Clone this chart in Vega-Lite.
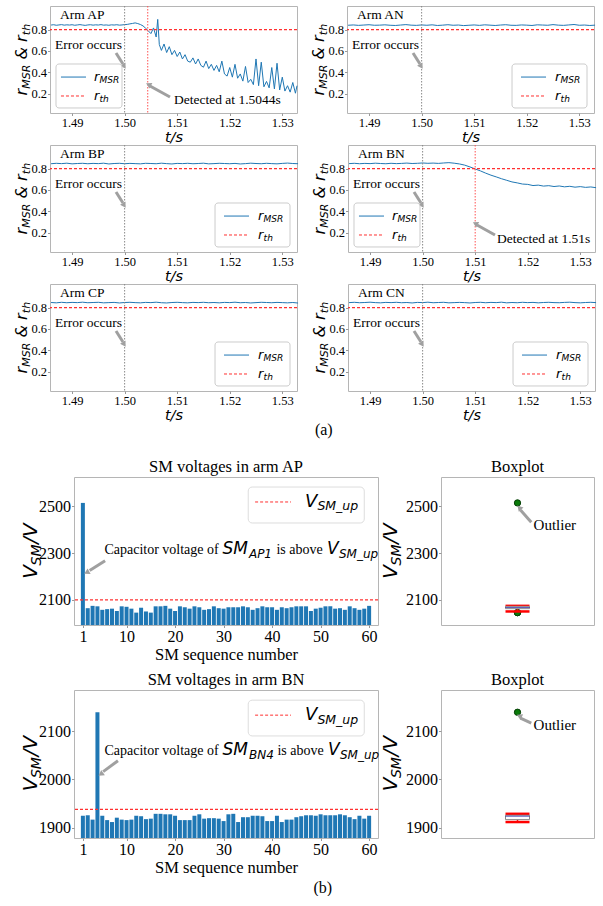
{
"$schema": "https://vega.github.io/schema/vega-lite/v6.json",
"background": "white",
"padding": {"left": 0, "top": 5, "right": 0, "bottom": 0},
"config": {
  "view": {"stroke": "#b5b5b5", "strokeWidth": 1},
  "axis": {"domain": false, "grid": false, "tickColor": "#999999", "tickSize": 2.5, "labelFont": "Liberation Serif", "labelFontSize": 12.5, "labelColor": "#000000", "labelPadding": 1, "labelOverlap": false, "labelBound": false, "labelFlush": false, "titleFont": "Liberation Serif", "titleFontWeight": "normal", "titleColor": "#000000"},
  "title": {"font": "Liberation Serif", "fontWeight": "normal", "color": "#000000", "fontSize": 16.5},
  "text": {"color": "#000000"},
  "style": {
    "lbl": {"font": "Liberation Serif", "fontSize": 13.5, "align": "left", "baseline": "middle"},
    "lbo": {"font": "Liberation Serif", "fontSize": 15, "align": "left", "baseline": "middle"},
    "yt": {"font": "DejaVu Sans", "fontStyle": "italic", "fontSize": 16, "angle": 270, "align": "left", "baseline": "alphabetic"},
    "yts": {"font": "DejaVu Sans", "fontStyle": "italic", "fontSize": 11, "angle": 270, "align": "left", "baseline": "alphabetic"},
    "lg": {"font": "DejaVu Sans", "fontStyle": "italic", "fontSize": 13, "align": "left", "baseline": "middle"},
    "lgs": {"font": "DejaVu Sans", "fontStyle": "italic", "fontSize": 9, "align": "left", "baseline": "middle"},
    "an": {"font": "Liberation Serif", "fontSize": 14, "align": "left", "baseline": "alphabetic"},
    "am": {"font": "DejaVu Sans", "fontStyle": "italic", "fontSize": 17, "align": "left", "baseline": "alphabetic"},
    "as": {"font": "DejaVu Sans", "fontStyle": "italic", "fontSize": 12, "align": "left", "baseline": "alphabetic"},
    "vt": {"font": "DejaVu Sans", "fontStyle": "italic", "fontSize": 20, "angle": 270, "align": "left", "baseline": "alphabetic"},
    "vts": {"font": "DejaVu Sans", "fontStyle": "italic", "fontSize": 14, "angle": 270, "align": "left", "baseline": "alphabetic"},
    "vl": {"font": "DejaVu Sans", "fontStyle": "italic", "fontSize": 18, "align": "left", "baseline": "middle"},
    "vls": {"font": "DejaVu Sans", "fontStyle": "italic", "fontSize": 12.5, "align": "left", "baseline": "middle"}
  }
},
"datasets": {
  "ap": [{"t":1.4860,"r":0.842},{"t":1.4865,"r":0.845},{"t":1.4870,"r":0.840},{"t":1.4875,"r":0.843},{"t":1.4880,"r":0.846},{"t":1.4885,"r":0.841},{"t":1.4890,"r":0.844},{"t":1.4895,"r":0.842},{"t":1.4900,"r":0.845},{"t":1.4905,"r":0.840},{"t":1.4910,"r":0.843},{"t":1.4915,"r":0.846},{"t":1.4920,"r":0.842},{"t":1.4925,"r":0.839},{"t":1.4930,"r":0.843},{"t":1.4935,"r":0.845},{"t":1.4940,"r":0.841},{"t":1.4945,"r":0.844},{"t":1.4950,"r":0.842},{"t":1.4955,"r":0.846},{"t":1.4960,"r":0.841},{"t":1.4965,"r":0.843},{"t":1.4970,"r":0.840},{"t":1.4975,"r":0.844},{"t":1.4980,"r":0.842},{"t":1.4985,"r":0.845},{"t":1.4990,"r":0.841},{"t":1.4995,"r":0.843},{"t":1.5000,"r":0.846},{"t":1.5005,"r":0.848},{"t":1.5010,"r":0.853},{"t":1.5015,"r":0.857},{"t":1.5020,"r":0.862},{"t":1.5025,"r":0.856},{"t":1.5030,"r":0.847},{"t":1.5035,"r":0.834},{"t":1.5040,"r":0.812},{"t":1.5045,"r":0.788},{"t":1.5050,"r":0.762},{"t":1.5055,"r":0.815},{"t":1.5060,"r":0.730},{"t":1.5063,"r":0.895},{"t":1.5066,"r":0.660},{"t":1.5070,"r":0.605},{"t":1.5075,"r":0.665},{"t":1.5080,"r":0.585},{"t":1.5085,"r":0.640},{"t":1.5090,"r":0.565},{"t":1.5095,"r":0.605},{"t":1.5100,"r":0.548},{"t":1.5105,"r":0.590},{"t":1.5110,"r":0.525},{"t":1.5115,"r":0.565},{"t":1.5120,"r":0.505},{"t":1.5125,"r":0.495},{"t":1.5130,"r":0.535},{"t":1.5135,"r":0.478},{"t":1.5140,"r":0.525},{"t":1.5145,"r":0.465},{"t":1.5150,"r":0.448},{"t":1.5155,"r":0.505},{"t":1.5160,"r":0.435},{"t":1.5165,"r":0.475},{"t":1.5170,"r":0.418},{"t":1.5175,"r":0.465},{"t":1.5180,"r":0.405},{"t":1.5185,"r":0.505},{"t":1.5190,"r":0.385},{"t":1.5195,"r":0.365},{"t":1.5200,"r":0.445},{"t":1.5205,"r":0.355},{"t":1.5210,"r":0.475},{"t":1.5215,"r":0.345},{"t":1.5220,"r":0.385},{"t":1.5225,"r":0.318},{"t":1.5230,"r":0.455},{"t":1.5235,"r":0.305},{"t":1.5240,"r":0.335},{"t":1.5245,"r":0.285},{"t":1.5250,"r":0.525},{"t":1.5255,"r":0.275},{"t":1.5260,"r":0.495},{"t":1.5265,"r":0.265},{"t":1.5270,"r":0.315},{"t":1.5275,"r":0.255},{"t":1.5280,"r":0.445},{"t":1.5285,"r":0.245},{"t":1.5290,"r":0.485},{"t":1.5295,"r":0.235},{"t":1.5300,"r":0.355},{"t":1.5305,"r":0.225},{"t":1.5310,"r":0.275},{"t":1.5315,"r":0.215},{"t":1.5320,"r":0.305},{"t":1.5325,"r":0.205},{"t":1.5328,"r":0.275}],
  "an": [{"t":1.486,"r":0.840},{"t":1.487,"r":0.843},{"t":1.488,"r":0.839},{"t":1.489,"r":0.842},{"t":1.490,"r":0.845},{"t":1.491,"r":0.840},{"t":1.492,"r":0.841},{"t":1.493,"r":0.844},{"t":1.494,"r":0.840},{"t":1.495,"r":0.838},{"t":1.496,"r":0.842},{"t":1.497,"r":0.846},{"t":1.498,"r":0.841},{"t":1.499,"r":0.839},{"t":1.500,"r":0.843},{"t":1.501,"r":0.840},{"t":1.502,"r":0.844},{"t":1.503,"r":0.838},{"t":1.504,"r":0.841},{"t":1.505,"r":0.845},{"t":1.506,"r":0.840},{"t":1.507,"r":0.842},{"t":1.508,"r":0.837},{"t":1.509,"r":0.840},{"t":1.510,"r":0.843},{"t":1.511,"r":0.839},{"t":1.512,"r":0.844},{"t":1.513,"r":0.841},{"t":1.514,"r":0.838},{"t":1.515,"r":0.842},{"t":1.516,"r":0.845},{"t":1.517,"r":0.840},{"t":1.518,"r":0.839},{"t":1.519,"r":0.843},{"t":1.520,"r":0.841},{"t":1.521,"r":0.838},{"t":1.522,"r":0.844},{"t":1.523,"r":0.842},{"t":1.524,"r":0.840},{"t":1.525,"r":0.846},{"t":1.526,"r":0.841},{"t":1.527,"r":0.839},{"t":1.528,"r":0.843},{"t":1.529,"r":0.847},{"t":1.530,"r":0.840},{"t":1.531,"r":0.842},{"t":1.532,"r":0.838},{"t":1.533,"r":0.841}],
  "bp": [{"t":1.486,"r":0.845},{"t":1.487,"r":0.849},{"t":1.488,"r":0.846},{"t":1.489,"r":0.850},{"t":1.490,"r":0.844},{"t":1.491,"r":0.847},{"t":1.492,"r":0.849},{"t":1.493,"r":0.845},{"t":1.494,"r":0.848},{"t":1.495,"r":0.846},{"t":1.496,"r":0.850},{"t":1.497,"r":0.843},{"t":1.498,"r":0.847},{"t":1.499,"r":0.849},{"t":1.500,"r":0.845},{"t":1.501,"r":0.848},{"t":1.502,"r":0.846},{"t":1.503,"r":0.844},{"t":1.504,"r":0.849},{"t":1.505,"r":0.847},{"t":1.506,"r":0.845},{"t":1.507,"r":0.850},{"t":1.508,"r":0.846},{"t":1.509,"r":0.843},{"t":1.510,"r":0.848},{"t":1.511,"r":0.846},{"t":1.512,"r":0.849},{"t":1.513,"r":0.845},{"t":1.514,"r":0.847},{"t":1.515,"r":0.850},{"t":1.516,"r":0.844},{"t":1.517,"r":0.846},{"t":1.518,"r":0.849},{"t":1.519,"r":0.847},{"t":1.520,"r":0.845},{"t":1.521,"r":0.848},{"t":1.522,"r":0.843},{"t":1.523,"r":0.846},{"t":1.524,"r":0.850},{"t":1.525,"r":0.847},{"t":1.526,"r":0.845},{"t":1.527,"r":0.849},{"t":1.528,"r":0.846},{"t":1.529,"r":0.844},{"t":1.530,"r":0.848},{"t":1.531,"r":0.851},{"t":1.532,"r":0.847},{"t":1.533,"r":0.845}],
  "bn": [{"t":1.486,"r":0.846},{"t":1.487,"r":0.849},{"t":1.488,"r":0.845},{"t":1.489,"r":0.848},{"t":1.490,"r":0.846},{"t":1.491,"r":0.850},{"t":1.492,"r":0.847},{"t":1.493,"r":0.845},{"t":1.494,"r":0.849},{"t":1.495,"r":0.846},{"t":1.496,"r":0.848},{"t":1.497,"r":0.851},{"t":1.498,"r":0.847},{"t":1.499,"r":0.849},{"t":1.500,"r":0.852},{"t":1.501,"r":0.849},{"t":1.502,"r":0.851},{"t":1.503,"r":0.848},{"t":1.504,"r":0.852},{"t":1.505,"r":0.855},{"t":1.506,"r":0.850},{"t":1.507,"r":0.843},{"t":1.508,"r":0.832},{"t":1.509,"r":0.815},{"t":1.510,"r":0.796},{"t":1.511,"r":0.778},{"t":1.512,"r":0.757},{"t":1.513,"r":0.738},{"t":1.514,"r":0.722},{"t":1.515,"r":0.705},{"t":1.516,"r":0.690},{"t":1.517,"r":0.675},{"t":1.518,"r":0.666},{"t":1.519,"r":0.655},{"t":1.520,"r":0.652},{"t":1.521,"r":0.641},{"t":1.522,"r":0.645},{"t":1.523,"r":0.636},{"t":1.524,"r":0.640},{"t":1.525,"r":0.632},{"t":1.526,"r":0.637},{"t":1.527,"r":0.629},{"t":1.528,"r":0.634},{"t":1.529,"r":0.626},{"t":1.530,"r":0.631},{"t":1.531,"r":0.624},{"t":1.532,"r":0.628},{"t":1.533,"r":0.621}],
  "cp": [{"t":1.486,"r":0.847},{"t":1.487,"r":0.844},{"t":1.488,"r":0.849},{"t":1.489,"r":0.845},{"t":1.490,"r":0.848},{"t":1.491,"r":0.846},{"t":1.492,"r":0.850},{"t":1.493,"r":0.845},{"t":1.494,"r":0.847},{"t":1.495,"r":0.849},{"t":1.496,"r":0.844},{"t":1.497,"r":0.846},{"t":1.498,"r":0.848},{"t":1.499,"r":0.843},{"t":1.500,"r":0.847},{"t":1.501,"r":0.849},{"t":1.502,"r":0.846},{"t":1.503,"r":0.844},{"t":1.504,"r":0.848},{"t":1.505,"r":0.846},{"t":1.506,"r":0.850},{"t":1.507,"r":0.845},{"t":1.508,"r":0.843},{"t":1.509,"r":0.847},{"t":1.510,"r":0.849},{"t":1.511,"r":0.846},{"t":1.512,"r":0.844},{"t":1.513,"r":0.848},{"t":1.514,"r":0.846},{"t":1.515,"r":0.849},{"t":1.516,"r":0.845},{"t":1.517,"r":0.847},{"t":1.518,"r":0.844},{"t":1.519,"r":0.848},{"t":1.520,"r":0.846},{"t":1.521,"r":0.850},{"t":1.522,"r":0.845},{"t":1.523,"r":0.847},{"t":1.524,"r":0.843},{"t":1.525,"r":0.846},{"t":1.526,"r":0.849},{"t":1.527,"r":0.847},{"t":1.528,"r":0.845},{"t":1.529,"r":0.848},{"t":1.530,"r":0.846},{"t":1.531,"r":0.844},{"t":1.532,"r":0.847},{"t":1.533,"r":0.842}],
  "cn": [{"t":1.486,"r":0.846},{"t":1.487,"r":0.849},{"t":1.488,"r":0.845},{"t":1.489,"r":0.847},{"t":1.490,"r":0.850},{"t":1.491,"r":0.846},{"t":1.492,"r":0.844},{"t":1.493,"r":0.848},{"t":1.494,"r":0.846},{"t":1.495,"r":0.849},{"t":1.496,"r":0.845},{"t":1.497,"r":0.847},{"t":1.498,"r":0.843},{"t":1.499,"r":0.848},{"t":1.500,"r":0.846},{"t":1.501,"r":0.850},{"t":1.502,"r":0.845},{"t":1.503,"r":0.847},{"t":1.504,"r":0.849},{"t":1.505,"r":0.844},{"t":1.506,"r":0.846},{"t":1.507,"r":0.848},{"t":1.508,"r":0.846},{"t":1.509,"r":0.843},{"t":1.510,"r":0.847},{"t":1.511,"r":0.849},{"t":1.512,"r":0.845},{"t":1.513,"r":0.848},{"t":1.514,"r":0.846},{"t":1.515,"r":0.850},{"t":1.516,"r":0.844},{"t":1.517,"r":0.847},{"t":1.518,"r":0.845},{"t":1.519,"r":0.849},{"t":1.520,"r":0.846},{"t":1.521,"r":0.848},{"t":1.522,"r":0.844},{"t":1.523,"r":0.847},{"t":1.524,"r":0.849},{"t":1.525,"r":0.846},{"t":1.526,"r":0.845},{"t":1.527,"r":0.848},{"t":1.528,"r":0.850},{"t":1.529,"r":0.846},{"t":1.530,"r":0.844},{"t":1.531,"r":0.847},{"t":1.532,"r":0.849},{"t":1.533,"r":0.846}],
  "smap": [{"seq":1,"v":2515},{"seq":2,"v":2064},{"seq":3,"v":2074},{"seq":4,"v":2072},{"seq":5,"v":2057},{"seq":6,"v":2060},{"seq":7,"v":2062},{"seq":8,"v":2052},{"seq":9,"v":2072},{"seq":10,"v":2070},{"seq":11,"v":2062},{"seq":12,"v":2045},{"seq":13,"v":2066},{"seq":14,"v":2050},{"seq":15,"v":2045},{"seq":16,"v":2072},{"seq":17,"v":2072},{"seq":18,"v":2074},{"seq":19,"v":2062},{"seq":20,"v":2052},{"seq":21,"v":2072},{"seq":22,"v":2068},{"seq":23,"v":2062},{"seq":24,"v":2072},{"seq":25,"v":2068},{"seq":26,"v":2057},{"seq":27,"v":2060},{"seq":28,"v":2072},{"seq":29,"v":2064},{"seq":30,"v":2062},{"seq":31,"v":2068},{"seq":32,"v":2068},{"seq":33,"v":2068},{"seq":34,"v":2072},{"seq":35,"v":2068},{"seq":36,"v":2057},{"seq":37,"v":2064},{"seq":38,"v":2072},{"seq":39,"v":2068},{"seq":40,"v":2068},{"seq":41,"v":2057},{"seq":42,"v":2068},{"seq":43,"v":2064},{"seq":44,"v":2068},{"seq":45,"v":2072},{"seq":46,"v":2072},{"seq":47,"v":2072},{"seq":48,"v":2052},{"seq":49,"v":2062},{"seq":50,"v":2066},{"seq":51,"v":2072},{"seq":52,"v":2072},{"seq":53,"v":2062},{"seq":54,"v":2064},{"seq":55,"v":2057},{"seq":56,"v":2072},{"seq":57,"v":2064},{"seq":58,"v":2057},{"seq":59,"v":2062},{"seq":60,"v":2074}],
  "smbn": [{"seq":1,"v":1925},{"seq":2,"v":1926},{"seq":3,"v":1917},{"seq":4,"v":2139},{"seq":5,"v":1925},{"seq":6,"v":1916},{"seq":7,"v":1912},{"seq":8,"v":1921},{"seq":9,"v":1917},{"seq":10,"v":1916},{"seq":11,"v":1917},{"seq":12,"v":1925},{"seq":13,"v":1924},{"seq":14,"v":1918},{"seq":15,"v":1919},{"seq":16,"v":1929},{"seq":17,"v":1929},{"seq":18,"v":1928},{"seq":19,"v":1928},{"seq":20,"v":1925},{"seq":21,"v":1916},{"seq":22,"v":1916},{"seq":23,"v":1916},{"seq":24,"v":1925},{"seq":25,"v":1928},{"seq":26,"v":1919},{"seq":27,"v":1920},{"seq":28,"v":1920},{"seq":29,"v":1919},{"seq":30,"v":1914},{"seq":31,"v":1928},{"seq":32,"v":1929},{"seq":33,"v":1912},{"seq":34,"v":1922},{"seq":35,"v":1922},{"seq":36,"v":1925},{"seq":37,"v":1925},{"seq":38,"v":1924},{"seq":39,"v":1914},{"seq":40,"v":1914},{"seq":41,"v":1925},{"seq":42,"v":1912},{"seq":43,"v":1917},{"seq":44,"v":1917},{"seq":45,"v":1922},{"seq":46,"v":1924},{"seq":47,"v":1926},{"seq":48,"v":1926},{"seq":49,"v":1925},{"seq":50,"v":1928},{"seq":51,"v":1926},{"seq":52,"v":1926},{"seq":53,"v":1926},{"seq":54,"v":1928},{"seq":55,"v":1926},{"seq":56,"v":1922},{"seq":57,"v":1918},{"seq":58,"v":1925},{"seq":59,"v":1919},{"seq":60,"v":1925}]
},
"columns": 1,
"align": "none",
"spacing": 20,
"concat": [
 {"spacing": 0, "hconcat": [
 {"width": 13, "height": 1, "data": {"values": [{}]}, "mark": {"type": "point", "opacity": 0, "size": 1}, "encoding": {}, "view": {"stroke": null}},
 {
  "spacing": 0,
  "title": {"text": "(a)", "orient": "bottom", "anchor": "middle", "fontSize": 16, "offset": 0, "dx": 18},
  "vconcat": [
   {"spacing": 10, "hconcat": [
    {"width": 247, "height": 107, "layer": [
     {"data": {"name": "ap"}, "mark": {"type": "line", "color": "#1f77b4", "strokeWidth": 1},
      "encoding": {
       "x": {"field": "t", "type": "quantitative", "scale": {"domain": [1.4858, 1.5328], "nice": false, "zero": false}, "axis": {"values": [1.49, 1.5, 1.51, 1.52, 1.53], "format": ".2f", "title": "t/s", "titleFont": "DejaVu Sans", "titleFontStyle": "italic", "titleFontSize": 14.5, "titlePadding": 1}},
       "y": {"field": "r", "type": "quantitative", "scale": {"domain": [0.02, 1.02], "nice": false, "zero": false}, "axis": {"values": [0.2, 0.4, 0.6, 0.8], "tickCount": 8, "format": ".1f", "title": null}}}},
     {"data": {"values": [{}]}, "layer": [
      {"mark": {"type": "rule", "color": "#888888", "strokeDash": [1.5, 1.5], "strokeWidth": 1}, "encoding": {"x": {"datum": 1.5}}},
      {"mark": {"type": "rule", "color": "#ff5050", "strokeDash": [1.5, 1.5], "strokeWidth": 1}, "encoding": {"x": {"datum": 1.5044}}},
      {"mark": {"type": "rule", "color": "#ff3030", "strokeDash": [3, 2], "strokeWidth": 1.2}, "encoding": {"y": {"datum": 0.8}}},
      {"mark": {"type": "text", "style": "lbl", "text": "Arm AP"}, "encoding": {"x": {"datum": 1.4877}, "y": {"datum": 0.936}}},
      {"mark": {"type": "text", "style": "lbl", "text": "Error occurs", "align": "right"}, "encoding": {"x": {"datum": 1.4995}, "y": {"datum": 0.655}}},
      {"mark": {"type": "rule", "color": "#a0a0a0", "strokeWidth": 3}, "encoding": {"x": {"datum": 1.49836}, "y": {"datum": 0.581}, "x2": {"datum": 1.49969}, "y2": {"datum": 0.478}}},
      {"mark": {"type": "point", "shape": "triangle-down", "filled": true, "color": "#a0a0a0", "opacity": 1, "size": 40, "angle": 328}, "encoding": {"x": {"datum": 1.49992}, "y": {"datum": 0.455}}},
      {"mark": {"type": "rect", "fill": "white", "fillOpacity": 0.85, "stroke": "#cccccc", "strokeWidth": 1, "cornerRadius": 3}, "encoding": {"x": {"datum": 1.48694}, "x2": {"datum": 1.4995}, "y": {"datum": 0.478}, "y2": {"datum": 0.067}}},
      {"mark": {"type": "rule", "color": "#1f77b4", "strokeWidth": 1}, "encoding": {"x": {"datum": 1.48789}, "x2": {"datum": 1.49265}, "y": {"datum": 0.356}}},
      {"mark": {"type": "rule", "color": "#ff3030", "strokeDash": [3, 2], "strokeWidth": 1}, "encoding": {"x": {"datum": 1.48789}, "x2": {"datum": 1.49265}, "y": {"datum": 0.179}}},
      {"encoding": {"x": {"datum": 1.49417}, "y": {"datum": 0.356}}, "layer": [{"mark": {"type": "text", "style": "lg", "text": "r"}}, {"mark": {"type": "text", "style": "lgs", "text": "MSR", "dx": 5.6, "dy": 3}}]},
      {"encoding": {"x": {"datum": 1.49417}, "y": {"datum": 0.179}}, "layer": [{"mark": {"type": "text", "style": "lg", "text": "r"}}, {"mark": {"type": "text", "style": "lgs", "text": "th", "dx": 5.6, "dy": 3}}]},
      {"encoding": {"x": {"datum": 1.48133}, "y": {"datum": 0.184}}, "layer": [{"mark": {"type": "text", "style": "yt", "text": "r"}}, {"mark": {"type": "text", "style": "yts", "text": "MSR", "dx": 6.8, "dy": 3.5}}, {"mark": {"type": "text", "style": "yt", "text": "&", "dx": 36}}, {"mark": {"type": "text", "style": "yt", "text": "r", "dx": 53.5}}, {"mark": {"type": "text", "style": "yts", "text": "th", "dx": 60.3, "dy": 3.5}}]},
      {"mark": {"type": "text", "style": "lbl", "text": "Detected at 1.5044s"}, "encoding": {"x": {"datum": 1.5094}, "y": {"datum": 0.141}}},
      {"mark": {"type": "rule", "color": "#a0a0a0", "strokeWidth": 3}, "encoding": {"x": {"datum": 1.50863}, "y": {"datum": 0.1695}, "x2": {"datum": 1.50483}, "y2": {"datum": 0.2724}}},
      {"mark": {"type": "point", "shape": "triangle-up", "filled": true, "color": "#a0a0a0", "opacity": 1, "size": 40, "angle": 298}, "encoding": {"x": {"datum": 1.50454}, "y": {"datum": 0.2864}}}
     ]}
    ]},
    {"width": 247, "height": 107, "layer": [
     {"data": {"name": "an"}, "mark": {"type": "line", "color": "#1f77b4", "strokeWidth": 1},
      "encoding": {
       "x": {"field": "t", "type": "quantitative", "scale": {"domain": [1.4858, 1.5328], "nice": false, "zero": false}, "axis": {"values": [1.49, 1.5, 1.51, 1.52, 1.53], "format": ".2f", "title": "t/s", "titleFont": "DejaVu Sans", "titleFontStyle": "italic", "titleFontSize": 14.5, "titlePadding": 1}},
       "y": {"field": "r", "type": "quantitative", "scale": {"domain": [0.02, 1.02], "nice": false, "zero": false}, "axis": {"values": [0.2, 0.4, 0.6, 0.8], "tickCount": 8, "format": ".1f", "title": null}}}},
     {"data": {"values": [{}]}, "layer": [
      {"mark": {"type": "rule", "color": "#888888", "strokeDash": [1.5, 1.5], "strokeWidth": 1}, "encoding": {"x": {"datum": 1.5}}},
      {"mark": {"type": "rule", "color": "#ff3030", "strokeDash": [3, 2], "strokeWidth": 1.2}, "encoding": {"y": {"datum": 0.8}}},
      {"mark": {"type": "text", "style": "lbl", "text": "Arm AN"}, "encoding": {"x": {"datum": 1.4877}, "y": {"datum": 0.936}}},
      {"mark": {"type": "text", "style": "lbl", "text": "Error occurs", "align": "right"}, "encoding": {"x": {"datum": 1.4995}, "y": {"datum": 0.655}}},
      {"mark": {"type": "rule", "color": "#a0a0a0", "strokeWidth": 3}, "encoding": {"x": {"datum": 1.49836}, "y": {"datum": 0.581}, "x2": {"datum": 1.49969}, "y2": {"datum": 0.478}}},
      {"mark": {"type": "point", "shape": "triangle-down", "filled": true, "color": "#a0a0a0", "opacity": 1, "size": 40, "angle": 328}, "encoding": {"x": {"datum": 1.49992}, "y": {"datum": 0.455}}},
      {"mark": {"type": "rect", "fill": "white", "fillOpacity": 0.85, "stroke": "#cccccc", "strokeWidth": 1, "cornerRadius": 3}, "encoding": {"x": {"datum": 1.5172}, "x2": {"datum": 1.53147}, "y": {"datum": 0.478}, "y2": {"datum": 0.067}}},
      {"mark": {"type": "rule", "color": "#1f77b4", "strokeWidth": 1}, "encoding": {"x": {"datum": 1.51891}, "x2": {"datum": 1.52367}, "y": {"datum": 0.356}}},
      {"mark": {"type": "rule", "color": "#ff3030", "strokeDash": [3, 2], "strokeWidth": 1}, "encoding": {"x": {"datum": 1.51891}, "x2": {"datum": 1.52367}, "y": {"datum": 0.179}}},
      {"encoding": {"x": {"datum": 1.52538}, "y": {"datum": 0.356}}, "layer": [{"mark": {"type": "text", "style": "lg", "text": "r"}}, {"mark": {"type": "text", "style": "lgs", "text": "MSR", "dx": 5.6, "dy": 3}}]},
      {"encoding": {"x": {"datum": 1.52538}, "y": {"datum": 0.179}}, "layer": [{"mark": {"type": "text", "style": "lg", "text": "r"}}, {"mark": {"type": "text", "style": "lgs", "text": "th", "dx": 5.6, "dy": 3}}]},
      {"encoding": {"x": {"datum": 1.48133}, "y": {"datum": 0.184}}, "layer": [{"mark": {"type": "text", "style": "yt", "text": "r"}}, {"mark": {"type": "text", "style": "yts", "text": "MSR", "dx": 6.8, "dy": 3.5}}, {"mark": {"type": "text", "style": "yt", "text": "&", "dx": 36}}, {"mark": {"type": "text", "style": "yt", "text": "r", "dx": 53.5}}, {"mark": {"type": "text", "style": "yts", "text": "th", "dx": 60.3, "dy": 3.5}}]}
     ]}
    ]}
   ]},
   {"spacing": 10, "hconcat": [
    {"width": 247, "height": 107, "layer": [
     {"data": {"name": "bp"}, "mark": {"type": "line", "color": "#1f77b4", "strokeWidth": 1},
      "encoding": {
       "x": {"field": "t", "type": "quantitative", "scale": {"domain": [1.4858, 1.5328], "nice": false, "zero": false}, "axis": {"values": [1.49, 1.5, 1.51, 1.52, 1.53], "format": ".2f", "title": "t/s", "titleFont": "DejaVu Sans", "titleFontStyle": "italic", "titleFontSize": 14.5, "titlePadding": 1}},
       "y": {"field": "r", "type": "quantitative", "scale": {"domain": [0.02, 1.02], "nice": false, "zero": false}, "axis": {"values": [0.2, 0.4, 0.6, 0.8], "tickCount": 8, "format": ".1f", "title": null}}}},
     {"data": {"values": [{}]}, "layer": [
      {"mark": {"type": "rule", "color": "#888888", "strokeDash": [1.5, 1.5], "strokeWidth": 1}, "encoding": {"x": {"datum": 1.5}}},
      {"mark": {"type": "rule", "color": "#ff3030", "strokeDash": [3, 2], "strokeWidth": 1.2}, "encoding": {"y": {"datum": 0.8}}},
      {"mark": {"type": "text", "style": "lbl", "text": "Arm BP"}, "encoding": {"x": {"datum": 1.4877}, "y": {"datum": 0.936}}},
      {"mark": {"type": "text", "style": "lbl", "text": "Error occurs", "align": "right"}, "encoding": {"x": {"datum": 1.4995}, "y": {"datum": 0.655}}},
      {"mark": {"type": "rule", "color": "#a0a0a0", "strokeWidth": 3}, "encoding": {"x": {"datum": 1.49836}, "y": {"datum": 0.581}, "x2": {"datum": 1.49969}, "y2": {"datum": 0.478}}},
      {"mark": {"type": "point", "shape": "triangle-down", "filled": true, "color": "#a0a0a0", "opacity": 1, "size": 40, "angle": 328}, "encoding": {"x": {"datum": 1.49992}, "y": {"datum": 0.455}}},
      {"mark": {"type": "rect", "fill": "white", "fillOpacity": 0.85, "stroke": "#cccccc", "strokeWidth": 1, "cornerRadius": 3}, "encoding": {"x": {"datum": 1.5172}, "x2": {"datum": 1.53147}, "y": {"datum": 0.478}, "y2": {"datum": 0.067}}},
      {"mark": {"type": "rule", "color": "#1f77b4", "strokeWidth": 1}, "encoding": {"x": {"datum": 1.51891}, "x2": {"datum": 1.52367}, "y": {"datum": 0.356}}},
      {"mark": {"type": "rule", "color": "#ff3030", "strokeDash": [3, 2], "strokeWidth": 1}, "encoding": {"x": {"datum": 1.51891}, "x2": {"datum": 1.52367}, "y": {"datum": 0.179}}},
      {"encoding": {"x": {"datum": 1.52538}, "y": {"datum": 0.356}}, "layer": [{"mark": {"type": "text", "style": "lg", "text": "r"}}, {"mark": {"type": "text", "style": "lgs", "text": "MSR", "dx": 5.6, "dy": 3}}]},
      {"encoding": {"x": {"datum": 1.52538}, "y": {"datum": 0.179}}, "layer": [{"mark": {"type": "text", "style": "lg", "text": "r"}}, {"mark": {"type": "text", "style": "lgs", "text": "th", "dx": 5.6, "dy": 3}}]},
      {"encoding": {"x": {"datum": 1.48133}, "y": {"datum": 0.184}}, "layer": [{"mark": {"type": "text", "style": "yt", "text": "r"}}, {"mark": {"type": "text", "style": "yts", "text": "MSR", "dx": 6.8, "dy": 3.5}}, {"mark": {"type": "text", "style": "yt", "text": "&", "dx": 36}}, {"mark": {"type": "text", "style": "yt", "text": "r", "dx": 53.5}}, {"mark": {"type": "text", "style": "yts", "text": "th", "dx": 60.3, "dy": 3.5}}]}
     ]}
    ]},
    {"width": 247, "height": 107, "layer": [
     {"data": {"name": "bn"}, "mark": {"type": "line", "color": "#1f77b4", "strokeWidth": 1},
      "encoding": {
       "x": {"field": "t", "type": "quantitative", "scale": {"domain": [1.4858, 1.5328], "nice": false, "zero": false}, "axis": {"values": [1.49, 1.5, 1.51, 1.52, 1.53], "format": ".2f", "title": "t/s", "titleFont": "DejaVu Sans", "titleFontStyle": "italic", "titleFontSize": 14.5, "titlePadding": 1}},
       "y": {"field": "r", "type": "quantitative", "scale": {"domain": [0.02, 1.02], "nice": false, "zero": false}, "axis": {"values": [0.2, 0.4, 0.6, 0.8], "tickCount": 8, "format": ".1f", "title": null}}}},
     {"data": {"values": [{}]}, "layer": [
      {"mark": {"type": "rule", "color": "#888888", "strokeDash": [1.5, 1.5], "strokeWidth": 1}, "encoding": {"x": {"datum": 1.5}}},
      {"mark": {"type": "rule", "color": "#ff5050", "strokeDash": [1.5, 1.5], "strokeWidth": 1}, "encoding": {"x": {"datum": 1.51}}},
      {"mark": {"type": "rule", "color": "#ff3030", "strokeDash": [3, 2], "strokeWidth": 1.2}, "encoding": {"y": {"datum": 0.8}}},
      {"mark": {"type": "text", "style": "lbl", "text": "Arm BN"}, "encoding": {"x": {"datum": 1.4877}, "y": {"datum": 0.936}}},
      {"mark": {"type": "text", "style": "lbl", "text": "Error occurs", "align": "right"}, "encoding": {"x": {"datum": 1.4995}, "y": {"datum": 0.655}}},
      {"mark": {"type": "rule", "color": "#a0a0a0", "strokeWidth": 3}, "encoding": {"x": {"datum": 1.49836}, "y": {"datum": 0.581}, "x2": {"datum": 1.49969}, "y2": {"datum": 0.478}}},
      {"mark": {"type": "point", "shape": "triangle-down", "filled": true, "color": "#a0a0a0", "opacity": 1, "size": 40, "angle": 328}, "encoding": {"x": {"datum": 1.49992}, "y": {"datum": 0.455}}},
      {"mark": {"type": "rect", "fill": "white", "fillOpacity": 0.85, "stroke": "#cccccc", "strokeWidth": 1, "cornerRadius": 3}, "encoding": {"x": {"datum": 1.48694}, "x2": {"datum": 1.4995}, "y": {"datum": 0.478}, "y2": {"datum": 0.067}}},
      {"mark": {"type": "rule", "color": "#1f77b4", "strokeWidth": 1}, "encoding": {"x": {"datum": 1.48789}, "x2": {"datum": 1.49265}, "y": {"datum": 0.356}}},
      {"mark": {"type": "rule", "color": "#ff3030", "strokeDash": [3, 2], "strokeWidth": 1}, "encoding": {"x": {"datum": 1.48789}, "x2": {"datum": 1.49265}, "y": {"datum": 0.179}}},
      {"encoding": {"x": {"datum": 1.49417}, "y": {"datum": 0.356}}, "layer": [{"mark": {"type": "text", "style": "lg", "text": "r"}}, {"mark": {"type": "text", "style": "lgs", "text": "MSR", "dx": 5.6, "dy": 3}}]},
      {"encoding": {"x": {"datum": 1.49417}, "y": {"datum": 0.179}}, "layer": [{"mark": {"type": "text", "style": "lg", "text": "r"}}, {"mark": {"type": "text", "style": "lgs", "text": "th", "dx": 5.6, "dy": 3}}]},
      {"encoding": {"x": {"datum": 1.48133}, "y": {"datum": 0.184}}, "layer": [{"mark": {"type": "text", "style": "yt", "text": "r"}}, {"mark": {"type": "text", "style": "yts", "text": "MSR", "dx": 6.8, "dy": 3.5}}, {"mark": {"type": "text", "style": "yt", "text": "&", "dx": 36}}, {"mark": {"type": "text", "style": "yt", "text": "r", "dx": 53.5}}, {"mark": {"type": "text", "style": "yts", "text": "th", "dx": 60.3, "dy": 3.5}}]},
      {"mark": {"type": "text", "style": "lbl", "text": "Detected at 1.51s"}, "encoding": {"x": {"datum": 1.51415}, "y": {"datum": 0.141}}},
      {"mark": {"type": "rule", "color": "#a0a0a0", "strokeWidth": 3}, "encoding": {"x": {"datum": 1.51377}, "y": {"datum": 0.179}, "x2": {"datum": 1.51035}, "y2": {"datum": 0.2724}}},
      {"mark": {"type": "point", "shape": "triangle-up", "filled": true, "color": "#a0a0a0", "opacity": 1, "size": 40, "angle": 299}, "encoding": {"x": {"datum": 1.51002}, "y": {"datum": 0.2864}}}
     ]}
    ]}
   ]},
   {"spacing": 10, "hconcat": [
    {"width": 247, "height": 107, "layer": [
     {"data": {"name": "cp"}, "mark": {"type": "line", "color": "#1f77b4", "strokeWidth": 1},
      "encoding": {
       "x": {"field": "t", "type": "quantitative", "scale": {"domain": [1.4858, 1.5328], "nice": false, "zero": false}, "axis": {"values": [1.49, 1.5, 1.51, 1.52, 1.53], "format": ".2f", "title": "t/s", "titleFont": "DejaVu Sans", "titleFontStyle": "italic", "titleFontSize": 14.5, "titlePadding": 1}},
       "y": {"field": "r", "type": "quantitative", "scale": {"domain": [0.02, 1.02], "nice": false, "zero": false}, "axis": {"values": [0.2, 0.4, 0.6, 0.8], "tickCount": 8, "format": ".1f", "title": null}}}},
     {"data": {"values": [{}]}, "layer": [
      {"mark": {"type": "rule", "color": "#888888", "strokeDash": [1.5, 1.5], "strokeWidth": 1}, "encoding": {"x": {"datum": 1.5}}},
      {"mark": {"type": "rule", "color": "#ff3030", "strokeDash": [3, 2], "strokeWidth": 1.2}, "encoding": {"y": {"datum": 0.8}}},
      {"mark": {"type": "text", "style": "lbl", "text": "Arm CP"}, "encoding": {"x": {"datum": 1.4877}, "y": {"datum": 0.936}}},
      {"mark": {"type": "text", "style": "lbl", "text": "Error occurs", "align": "right"}, "encoding": {"x": {"datum": 1.4995}, "y": {"datum": 0.655}}},
      {"mark": {"type": "rule", "color": "#a0a0a0", "strokeWidth": 3}, "encoding": {"x": {"datum": 1.49836}, "y": {"datum": 0.581}, "x2": {"datum": 1.49969}, "y2": {"datum": 0.478}}},
      {"mark": {"type": "point", "shape": "triangle-down", "filled": true, "color": "#a0a0a0", "opacity": 1, "size": 40, "angle": 328}, "encoding": {"x": {"datum": 1.49992}, "y": {"datum": 0.455}}},
      {"mark": {"type": "rect", "fill": "white", "fillOpacity": 0.85, "stroke": "#cccccc", "strokeWidth": 1, "cornerRadius": 3}, "encoding": {"x": {"datum": 1.5172}, "x2": {"datum": 1.53147}, "y": {"datum": 0.478}, "y2": {"datum": 0.067}}},
      {"mark": {"type": "rule", "color": "#1f77b4", "strokeWidth": 1}, "encoding": {"x": {"datum": 1.51891}, "x2": {"datum": 1.52367}, "y": {"datum": 0.356}}},
      {"mark": {"type": "rule", "color": "#ff3030", "strokeDash": [3, 2], "strokeWidth": 1}, "encoding": {"x": {"datum": 1.51891}, "x2": {"datum": 1.52367}, "y": {"datum": 0.179}}},
      {"encoding": {"x": {"datum": 1.52538}, "y": {"datum": 0.356}}, "layer": [{"mark": {"type": "text", "style": "lg", "text": "r"}}, {"mark": {"type": "text", "style": "lgs", "text": "MSR", "dx": 5.6, "dy": 3}}]},
      {"encoding": {"x": {"datum": 1.52538}, "y": {"datum": 0.179}}, "layer": [{"mark": {"type": "text", "style": "lg", "text": "r"}}, {"mark": {"type": "text", "style": "lgs", "text": "th", "dx": 5.6, "dy": 3}}]},
      {"encoding": {"x": {"datum": 1.48133}, "y": {"datum": 0.184}}, "layer": [{"mark": {"type": "text", "style": "yt", "text": "r"}}, {"mark": {"type": "text", "style": "yts", "text": "MSR", "dx": 6.8, "dy": 3.5}}, {"mark": {"type": "text", "style": "yt", "text": "&", "dx": 36}}, {"mark": {"type": "text", "style": "yt", "text": "r", "dx": 53.5}}, {"mark": {"type": "text", "style": "yts", "text": "th", "dx": 60.3, "dy": 3.5}}]}
     ]}
    ]},
    {"width": 247, "height": 107, "layer": [
     {"data": {"name": "cn"}, "mark": {"type": "line", "color": "#1f77b4", "strokeWidth": 1},
      "encoding": {
       "x": {"field": "t", "type": "quantitative", "scale": {"domain": [1.4858, 1.5328], "nice": false, "zero": false}, "axis": {"values": [1.49, 1.5, 1.51, 1.52, 1.53], "format": ".2f", "title": "t/s", "titleFont": "DejaVu Sans", "titleFontStyle": "italic", "titleFontSize": 14.5, "titlePadding": 1}},
       "y": {"field": "r", "type": "quantitative", "scale": {"domain": [0.02, 1.02], "nice": false, "zero": false}, "axis": {"values": [0.2, 0.4, 0.6, 0.8], "tickCount": 8, "format": ".1f", "title": null}}}},
     {"data": {"values": [{}]}, "layer": [
      {"mark": {"type": "rule", "color": "#888888", "strokeDash": [1.5, 1.5], "strokeWidth": 1}, "encoding": {"x": {"datum": 1.5}}},
      {"mark": {"type": "rule", "color": "#ff3030", "strokeDash": [3, 2], "strokeWidth": 1.2}, "encoding": {"y": {"datum": 0.8}}},
      {"mark": {"type": "text", "style": "lbl", "text": "Arm CN"}, "encoding": {"x": {"datum": 1.4877}, "y": {"datum": 0.936}}},
      {"mark": {"type": "text", "style": "lbl", "text": "Error occurs", "align": "right"}, "encoding": {"x": {"datum": 1.4995}, "y": {"datum": 0.655}}},
      {"mark": {"type": "rule", "color": "#a0a0a0", "strokeWidth": 3}, "encoding": {"x": {"datum": 1.49836}, "y": {"datum": 0.581}, "x2": {"datum": 1.49969}, "y2": {"datum": 0.478}}},
      {"mark": {"type": "point", "shape": "triangle-down", "filled": true, "color": "#a0a0a0", "opacity": 1, "size": 40, "angle": 328}, "encoding": {"x": {"datum": 1.49992}, "y": {"datum": 0.455}}},
      {"mark": {"type": "rect", "fill": "white", "fillOpacity": 0.85, "stroke": "#cccccc", "strokeWidth": 1, "cornerRadius": 3}, "encoding": {"x": {"datum": 1.5172}, "x2": {"datum": 1.53147}, "y": {"datum": 0.478}, "y2": {"datum": 0.067}}},
      {"mark": {"type": "rule", "color": "#1f77b4", "strokeWidth": 1}, "encoding": {"x": {"datum": 1.51891}, "x2": {"datum": 1.52367}, "y": {"datum": 0.356}}},
      {"mark": {"type": "rule", "color": "#ff3030", "strokeDash": [3, 2], "strokeWidth": 1}, "encoding": {"x": {"datum": 1.51891}, "x2": {"datum": 1.52367}, "y": {"datum": 0.179}}},
      {"encoding": {"x": {"datum": 1.52538}, "y": {"datum": 0.356}}, "layer": [{"mark": {"type": "text", "style": "lg", "text": "r"}}, {"mark": {"type": "text", "style": "lgs", "text": "MSR", "dx": 5.6, "dy": 3}}]},
      {"encoding": {"x": {"datum": 1.52538}, "y": {"datum": 0.179}}, "layer": [{"mark": {"type": "text", "style": "lg", "text": "r"}}, {"mark": {"type": "text", "style": "lgs", "text": "th", "dx": 5.6, "dy": 3}}]},
      {"encoding": {"x": {"datum": 1.48133}, "y": {"datum": 0.184}}, "layer": [{"mark": {"type": "text", "style": "yt", "text": "r"}}, {"mark": {"type": "text", "style": "yts", "text": "MSR", "dx": 6.8, "dy": 3.5}}, {"mark": {"type": "text", "style": "yt", "text": "&", "dx": 36}}, {"mark": {"type": "text", "style": "yt", "text": "r", "dx": 53.5}}, {"mark": {"type": "text", "style": "yts", "text": "th", "dx": 60.3, "dy": 3.5}}]}
     ]}
    ]}
   ]}
  ]
 }
 ]},
 {"spacing": 0, "hconcat": [
 {"width": 20, "height": 1, "data": {"values": [{}]}, "mark": {"type": "point", "opacity": 0, "size": 1}, "encoding": {}, "view": {"stroke": null}},
 {
  "spacing": 7,
  "title": {"text": "(b)", "orient": "bottom", "anchor": "middle", "fontSize": 16, "offset": 3, "dx": 15},
  "vconcat": [
   {"spacing": 0, "hconcat": [
    {"width": 304, "height": 148, "title": {"text": "SM voltages in arm AP", "fontSize": 16.5, "offset": 2}, "layer": [
     {"data": {"name": "smap"}, "mark": {"type": "bar", "color": "#1f77b4", "size": 4},
      "encoding": {
       "x": {"field": "seq", "type": "quantitative", "scale": {"domain": [0.2, 60.8], "nice": false, "zero": false}, "axis": {"values": [1, 10, 20, 30, 40, 50, 60], "labelFontSize": 16, "title": "SM sequence number", "titleFontSize": 16.5, "titlePadding": 2}},
       "y": {"field": "v", "type": "quantitative", "scale": {"domain": [1992, 2626], "nice": false, "zero": false}, "axis": {"values": [2100, 2300, 2500], "tickCount": 8, "format": "d", "labelFontSize": 16, "title": null}},
       "y2": {"datum": 1992}}},
     {"data": {"values": [{}]}, "layer": [
      {"mark": {"type": "rule", "color": "#ff3030", "strokeDash": [3, 2], "strokeWidth": 1.2}, "encoding": {"y": {"datum": 2100}}},
      {"mark": {"type": "rect", "fill": "white", "fillOpacity": 0.85, "stroke": "#dddddd", "strokeWidth": 1, "cornerRadius": 4}, "encoding": {"x": {"datum": 35.08}, "x2": {"datum": 59.0}, "y": {"datum": 2583}, "y2": {"datum": 2429}}},
      {"mark": {"type": "rule", "color": "#ff3030", "strokeDash": [3, 2], "strokeWidth": 1}, "encoding": {"x": {"datum": 36.5}, "x2": {"datum": 43.9}, "y": {"datum": 2519}}},
      {"encoding": {"x": {"datum": 46.8}, "y": {"datum": 2519}}, "layer": [{"mark": {"type": "text", "style": "vl", "text": "V"}}, {"mark": {"type": "text", "style": "vls", "text": "SM_up", "dx": 12.3, "dy": 4.5}}]},
      {"encoding": {"x": {"datum": 5.44}, "y": {"datum": 2296}}, "layer": [
       {"mark": {"type": "text", "style": "an", "text": "Capacitor voltage of"}},
       {"mark": {"type": "text", "style": "am", "text": "SM", "dx": 118}},
       {"mark": {"type": "text", "style": "as", "text": "AP1", "dx": 144.5, "dy": 4}},
       {"mark": {"type": "text", "style": "an", "text": "is above", "dx": 172}},
       {"mark": {"type": "text", "style": "am", "text": "V", "dx": 222.5}},
       {"mark": {"type": "text", "style": "as", "text": "SM_up", "dx": 234.5, "dy": 4}}]},
      {"mark": {"type": "rule", "color": "#a0a0a0", "strokeWidth": 3}, "encoding": {"x": {"datum": 5.58}, "y": {"datum": 2267.4}, "x2": {"datum": 2.4}, "y2": {"datum": 2225.5}}},
      {"mark": {"type": "point", "shape": "triangle-left", "filled": true, "color": "#a0a0a0", "opacity": 1, "size": 40, "angle": 331}, "encoding": {"x": {"datum": 1.79}, "y": {"datum": 2217}}},
      {"encoding": {"x": {"datum": -8.37}, "y": {"datum": 2190.3}}, "layer": [{"mark": {"type": "text", "style": "vt", "text": "V"}}, {"mark": {"type": "text", "style": "vts", "text": "SM", "dx": 13.3, "dy": 4}}, {"mark": {"type": "text", "style": "vt", "text": "/V", "dx": 35}}]}
     ]}
    ]},
    {"width": 153, "height": 148, "title": {"text": "Boxplot", "fontSize": 16.5, "offset": 2}, "layer": [
     {"data": {"name": "smap"}, "mark": {"type": "boxplot", "extent": 1.5, "size": 24, "box": {"color": "white", "stroke": "#888888", "strokeWidth": 1}, "median": {"color": "#1a1aa0", "strokeWidth": 2}, "rule": {"color": "#ff0000", "strokeWidth": 1.5}, "ticks": {"color": "#ff0000", "size": 24, "thickness": 2.5}, "outliers": {"color": "#0a7a0a", "filled": true, "size": 40, "opacity": 1, "stroke": "#064006", "strokeWidth": 1}},
      "encoding": {"y": {"field": "v", "type": "quantitative", "scale": {"domain": [1992, 2626], "nice": false, "zero": false}, "axis": {"values": [2100, 2300, 2500], "tickCount": 8, "format": "d", "labelFontSize": 16, "title": null}}}},
     {"data": {"values": [{}]}, "layer": [
      {"mark": {"type": "text", "style": "lbo", "text": "Outlier"}, "encoding": {"x": {"datum": 0.21, "scale": {"domain": [-1, 1], "nice": false, "zero": false}, "axis": null}, "y": {"datum": 2420}}},
      {"mark": {"type": "rule", "color": "#a0a0a0", "strokeWidth": 3}, "encoding": {"x": {"datum": 0.18}, "y": {"datum": 2432}, "x2": {"datum": 0.039}, "y2": {"datum": 2484.6}}},
      {"mark": {"type": "point", "shape": "triangle-up", "filled": true, "color": "#a0a0a0", "opacity": 1, "size": 40, "angle": 318}, "encoding": {"x": {"datum": 0.0235}, "y": {"datum": 2495}}},
      {"encoding": {"x": {"datum": -1.575}, "y": {"datum": 2190.3}}, "layer": [{"mark": {"type": "text", "style": "vt", "text": "V"}}, {"mark": {"type": "text", "style": "vts", "text": "SM", "dx": 13.3, "dy": 4}}, {"mark": {"type": "text", "style": "vt", "text": "/V", "dx": 35}}]}
     ]}
    ]}
   ]},
   {"spacing": 0, "hconcat": [
    {"width": 304, "height": 148, "title": {"text": "SM voltages in arm BN", "fontSize": 16.5, "offset": 2}, "layer": [
     {"data": {"name": "smbn"}, "mark": {"type": "bar", "color": "#1f77b4", "size": 4},
      "encoding": {
       "x": {"field": "seq", "type": "quantitative", "scale": {"domain": [0.2, 60.8], "nice": false, "zero": false}, "axis": {"values": [1, 10, 20, 30, 40, 50, 60], "labelFontSize": 16, "title": "SM sequence number", "titleFontSize": 16.5, "titlePadding": 2}},
       "y": {"field": "v", "type": "quantitative", "scale": {"domain": [1879, 2185], "nice": false, "zero": false}, "axis": {"values": [1900, 2000, 2100], "tickCount": 8, "format": "d", "labelFontSize": 16, "title": null}},
       "y2": {"datum": 1879}}},
     {"data": {"values": [{}]}, "layer": [
      {"mark": {"type": "rule", "color": "#ff3030", "strokeDash": [3, 2], "strokeWidth": 1.2}, "encoding": {"y": {"datum": 1938}}},
      {"mark": {"type": "rect", "fill": "white", "fillOpacity": 0.85, "stroke": "#dddddd", "strokeWidth": 1, "cornerRadius": 4}, "encoding": {"x": {"datum": 35.08}, "x2": {"datum": 59.0}, "y": {"datum": 2164}, "y2": {"datum": 2090}}},
      {"mark": {"type": "rule", "color": "#ff3030", "strokeDash": [3, 2], "strokeWidth": 1}, "encoding": {"x": {"datum": 36.5}, "x2": {"datum": 43.9}, "y": {"datum": 2133}}},
      {"encoding": {"x": {"datum": 46.8}, "y": {"datum": 2133}}, "layer": [{"mark": {"type": "text", "style": "vl", "text": "V"}}, {"mark": {"type": "text", "style": "vls", "text": "SM_up", "dx": 12.3, "dy": 4.5}}]},
      {"encoding": {"x": {"datum": 5.44}, "y": {"datum": 2051.5}}, "layer": [
       {"mark": {"type": "text", "style": "an", "text": "Capacitor voltage of"}},
       {"mark": {"type": "text", "style": "am", "text": "SM", "dx": 118}},
       {"mark": {"type": "text", "style": "as", "text": "BN4", "dx": 144.5, "dy": 4}},
       {"mark": {"type": "text", "style": "an", "text": "is above", "dx": 173}},
       {"mark": {"type": "text", "style": "am", "text": "V", "dx": 223.5}},
       {"mark": {"type": "text", "style": "as", "text": "SM_up", "dx": 235.5, "dy": 4}}]},
      {"mark": {"type": "rule", "color": "#a0a0a0", "strokeWidth": 3}, "encoding": {"x": {"datum": 8.23}, "y": {"datum": 2038.7}, "x2": {"datum": 5.18}, "y2": {"datum": 2016.3}}},
      {"mark": {"type": "point", "shape": "triangle-left", "filled": true, "color": "#a0a0a0", "opacity": 1, "size": 40, "angle": 325}, "encoding": {"x": {"datum": 4.69}, "y": {"datum": 2011.1}}},
      {"encoding": {"x": {"datum": -8.37}, "y": {"datum": 1975.5}}, "layer": [{"mark": {"type": "text", "style": "vt", "text": "V"}}, {"mark": {"type": "text", "style": "vts", "text": "SM", "dx": 13.3, "dy": 4}}, {"mark": {"type": "text", "style": "vt", "text": "/V", "dx": 35}}]}
     ]}
    ]},
    {"width": 153, "height": 148, "title": {"text": "Boxplot", "fontSize": 16.5, "offset": 2}, "layer": [
     {"data": {"name": "smbn"}, "mark": {"type": "boxplot", "extent": 1.5, "size": 24, "box": {"color": "white", "stroke": "#888888", "strokeWidth": 1}, "median": {"color": "#1a1aa0", "strokeWidth": 2}, "rule": {"color": "#ff0000", "strokeWidth": 1.5}, "ticks": {"color": "#ff0000", "size": 24, "thickness": 2.5}, "outliers": {"color": "#0a7a0a", "filled": true, "size": 40, "opacity": 1, "stroke": "#064006", "strokeWidth": 1}},
      "encoding": {"y": {"field": "v", "type": "quantitative", "scale": {"domain": [1879, 2185], "nice": false, "zero": false}, "axis": {"values": [1900, 2000, 2100], "tickCount": 8, "format": "d", "labelFontSize": 16, "title": null}}}},
     {"data": {"values": [{}]}, "layer": [
      {"mark": {"type": "text", "style": "lbo", "text": "Outlier"}, "encoding": {"x": {"datum": 0.21, "scale": {"domain": [-1, 1], "nice": false, "zero": false}, "axis": null}, "y": {"datum": 2113}}},
      {"mark": {"type": "rule", "color": "#a0a0a0", "strokeWidth": 3}, "encoding": {"x": {"datum": 0.18}, "y": {"datum": 2116.7}, "x2": {"datum": 0.039}, "y2": {"datum": 2127}}},
      {"mark": {"type": "point", "shape": "triangle-up", "filled": true, "color": "#a0a0a0", "opacity": 1, "size": 40, "angle": 295}, "encoding": {"x": {"datum": 0.0235}, "y": {"datum": 2131.2}}},
      {"encoding": {"x": {"datum": -1.575}, "y": {"datum": 1975.5}}, "layer": [{"mark": {"type": "text", "style": "vt", "text": "V"}}, {"mark": {"type": "text", "style": "vts", "text": "SM", "dx": 13.3, "dy": 4}}, {"mark": {"type": "text", "style": "vt", "text": "/V", "dx": 35}}]}
     ]}
    ]}
   ]}
  ]
 }
 ]}
]
}
